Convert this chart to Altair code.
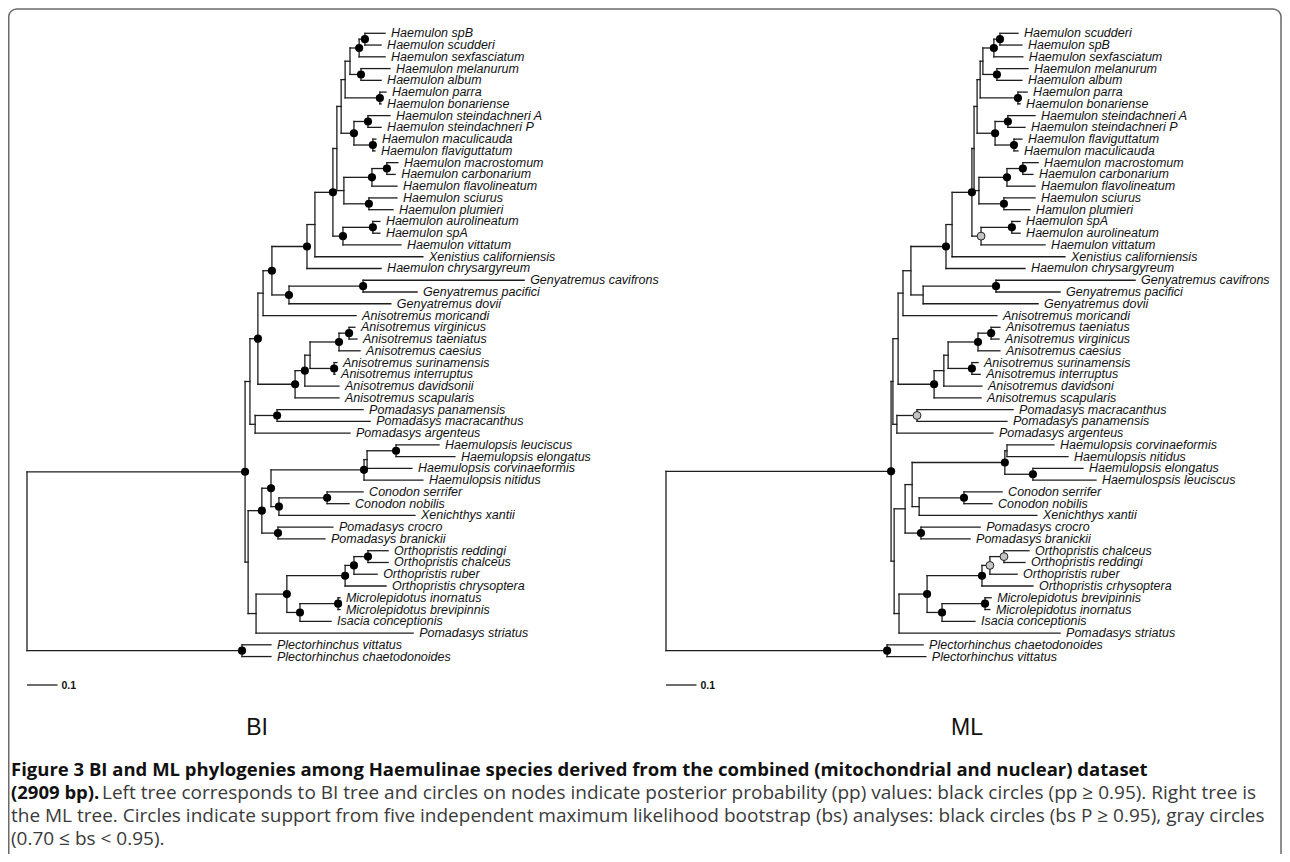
import altair as alt
import pandas as pd

# ---------------- BI tree (left) ----------------
BI_NODES = ["root", "Q", "R", "S", "T", "U", "V", "W", "X", "Y", "j", "e", "d", "b", "a", "c", "f",
            "i", "g", "h", "M", "m2", "m1", "sp", "au2", "au1", "G2", "G1", "A6", "A5", "A4", "A2",
            "A1", "A3", "P2", "P1", "K3", "K2", "K1", "H3", "H2", "H1", "C2", "C1", "Pc", "O5", "O4",
            "O3", "O2", "O1", "M2", "M1", "Pl"]
BI_NODE_PARENT = ["", "root", "Q", "R", "S", "T", "U", "V", "W", "X", "Y", "j", "e", "d", "b", "d", "e",
                  "j", "i", "i", "Y", "M", "m2", "M", "X", "au2", "U", "G2", "S", "A6", "A5", "A4",
                  "A2", "A4", "R", "P2", "Q", "K3", "K2", "K1", "H3", "H2", "K1", "C2", "K2", "K3", "O5",
                  "O4", "O3", "O2", "O4", "M2", "root"]
BI_NODE_DEPTH = [0.0, 0.715, 0.731, 0.757, 0.774, 0.803, 0.918, 0.944, 1.003, 1.016, 1.030, 1.043,
                 1.059, 1.089, 1.108, 1.095, 1.157, 1.072, 1.118, 1.134, 1.039, 1.131, 1.180, 1.121,
                 1.036, 1.134, 0.859, 1.102, 0.879, 0.911, 0.928, 1.023, 1.056, 1.007, 0.748, 0.820,
                 0.725, 0.770, 0.800, 1.105, 1.115, 1.210, 0.826, 0.984, 0.823, 0.751, 0.852, 1.043,
                 1.072, 1.118, 0.895, 1.020, 0.705]
# posterior probability >= 0.95 -> "B" (black circle)
BI_NODE_SUPPORT = ["", "B", "", "B", "", "B", "B", "", "B", "", "", "", "", "B", "B", "B", "B",
                   "B", "B", "B", "", "B", "B", "B", "B", "B", "B", "B", "B", "B", "", "B",
                   "B", "B", "", "B", "", "B", "B", "B", "", "B", "B", "B", "B", "", "B",
                   "B", "B", "B", "B", "B", "B"]
BI_TIPS = ["Haemulon spB", "Haemulon scudderi", "Haemulon sexfasciatum", "Haemulon melanurum",
           "Haemulon album", "Haemulon parra", "Haemulon bonariense", "Haemulon steindachneri A",
           "Haemulon steindachneri P", "Haemulon maculicauda", "Haemulon flaviguttatum",
           "Haemulon macrostomum", "Haemulon carbonarium", "Haemulon flavolineatum", "Haemulon sciurus",
           "Haemulon plumieri", "Haemulon aurolineatum", "Haemulon spA", "Haemulon vittatum",
           "Xenistius californiensis", "Haemulon chrysargyreum", "Genyatremus cavifrons",
           "Genyatremus pacifici", "Genyatremus dovii", "Anisotremus moricandi", "Anisotremus virginicus",
           "Anisotremus taeniatus", "Anisotremus caesius", "Anisotremus surinamensis",
           "Anisotremus interruptus", "Anisotremus davidsonii", "Anisotremus scapularis",
           "Pomadasys panamensis", "Pomadasys macracanthus", "Pomadasys argenteus",
           "Haemulopsis leuciscus", "Haemulopsis elongatus", "Haemulopsis corvinaeformis",
           "Haemulopsis nitidus", "Conodon serrifer", "Conodon nobilis", "Xenichthys xantii",
           "Pomadasys crocro", "Pomadasys branickii", "Orthopristis reddingi", "Orthopristis chalceus",
           "Orthopristis ruber", "Orthopristis chrysoptera", "Microlepidotus inornatus",
           "Microlepidotus brevipinnis", "Isacia conceptionis", "Pomadasys striatus",
           "Plectorhinchus vittatus", "Plectorhinchus chaetodonoides"]
BI_TIP_PARENT = ["a", "a", "b", "c", "c", "f", "f", "g", "g", "h", "h", "m1", "m1", "m2", "sp", "sp",
                 "au1", "au1", "au2", "W", "V", "G1", "G1", "G2", "T", "A1", "A1", "A2", "A3", "A3",
                 "A5", "A6", "P1", "P1", "P2", "H1", "H1", "H2", "H3", "C1", "C1", "C2", "Pc", "Pc",
                 "O1", "O1", "O2", "O3", "M1", "M1", "M2", "O5", "Pl", "Pl"]
BI_TIP_DEPTH = [1.174, 1.161, 1.174, 1.190, 1.161, 1.177, 1.161, 1.190, 1.161, 1.144, 1.141,
                1.216, 1.207, 1.213, 1.213, 1.200, 1.157, 1.157, 1.226, 1.298, 1.161, 1.630,
                1.279, 1.193, 1.079, 1.075, 1.082, 1.092, 1.016, 1.010, 1.023, 1.023, 1.102,
                1.125, 1.059, 1.351, 1.403, 1.262, 1.298, 1.102, 1.056, 1.272, 1.003, 0.977,
                1.184, 1.184, 1.148, 1.177, 1.026, 1.026, 0.997, 1.266, 0.800, 0.800]

# ---------------- ML tree (right) ----------------
ML_NODES = ["root", "Q", "R", "S", "T", "U", "V", "W", "X", "Y", "j", "e", "d", "b", "a", "c", "f",
            "i", "g", "h", "M", "m2", "m1", "sp", "au2", "au1", "G2", "G1", "A6", "A5", "A4", "A2",
            "A1", "A3", "P2", "P1", "K3", "K2", "K1", "Hc", "CN", "EL", "C2", "C1", "Pc", "O5", "O4",
            "O3", "O2", "O1", "M2", "M1", "Pl"]
ML_NODE_PARENT = ["", "root", "Q", "R", "S", "T", "U", "V", "W", "X", "Y", "j", "e", "d", "b", "d", "e",
                  "j", "i", "i", "Y", "M", "m2", "M", "X", "au2", "U", "G2", "S", "A6", "A5", "A4",
                  "A2", "A4", "R", "P2", "Q", "K3", "K2", "K1", "Hc", "Hc", "K1", "C2", "K2", "K3", "O5",
                  "O4", "O3", "O2", "O4", "M2", "root"]
ML_NODE_DEPTH = [0.0, 0.738, 0.744, 0.761, 0.777, 0.803, 0.918, 0.938, 1.003, 1.010, 1.020, 1.030,
                 1.039, 1.075, 1.095, 1.085, 1.154, 1.079, 1.121, 1.141, 1.026, 1.118, 1.170, 1.108,
                 1.033, 1.134, 0.843, 1.082, 0.879, 0.911, 0.925, 1.023, 1.066, 1.003, 0.757, 0.823,
                 0.748, 0.784, 0.807, 1.111, 1.118, 1.203, 0.830, 0.977, 0.836, 0.764, 0.856, 1.036,
                 1.062, 1.108, 0.905, 1.046, 0.725]
# bootstrap >= 0.95 -> "B" (black), 0.70-0.95 -> "G" (gray)
ML_NODE_SUPPORT = ["", "B", "", "", "", "", "B", "", "B", "", "", "", "", "B", "B", "B", "B",
                   "B", "B", "B", "", "B", "B", "B", "G", "B", "", "B", "B", "", "", "B",
                   "B", "B", "", "G", "", "", "", "B", "", "B", "", "B", "B", "", "B",
                   "B", "G", "G", "B", "B", "B"]
ML_TIPS = ["Haemulon scudderi", "Haemulon spB", "Haemulon sexfasciatum", "Haemulon melanurum",
           "Haemulon album", "Haemulon parra", "Haemulon bonariense", "Haemulon steindachneri A",
           "Haemulon steindachneri P", "Haemulon flaviguttatum", "Haemulon maculicauda",
           "Haemulon macrostomum", "Haemulon carbonarium", "Haemulon flavolineatum", "Haemulon sciurus",
           "Hamulon plumieri", "Haemulon spA", "Haemulon aurolineatum", "Haemulon vittatum",
           "Xenistius californiensis", "Haemulon chrysargyreum", "Genyatremus cavifrons",
           "Genyatremus pacifici", "Genyatremus dovii", "Anisotremus moricandi", "Anisotremus taeniatus",
           "Anisotremus virginicus", "Anisotremus caesius", "Anisotremus surinamensis",
           "Anisotremus interruptus", "Anisotremus davidsoni", "Anisotremus scapularis",
           "Pomadasys macracanthus", "Pomadasys panamensis", "Pomadasys argenteus",
           "Haemulopsis corvinaeformis", "Haemulopsis nitidus", "Haemulopsis elongatus",
           "Haemulospsis leuciscus", "Conodon serrifer", "Conodon nobilis", "Xenichthys xantii",
           "Pomadasys crocro", "Pomadasys branickii", "Orthopristis chalceus", "Orthopristis reddingi",
           "Orthopristis ruber", "Orthopristis crhysoptera", "Microlepidotus brevipinnis",
           "Microlepidotus inornatus", "Isacia conceptionis", "Pomadasys striatus",
           "Plectorhinchus chaetodonoides", "Plectorhinchus vittatus"]
ML_TIP_PARENT = ["a", "a", "b", "c", "c", "f", "f", "g", "g", "h", "h", "m1", "m1", "m2", "sp", "sp",
                 "au1", "au1", "au2", "W", "V", "G1", "G1", "G2", "T", "A1", "A1", "A2", "A3", "A3",
                 "A5", "A6", "P1", "P1", "P2", "CN", "CN", "EL", "EL", "C1", "C1", "C2", "Pc", "Pc",
                 "O1", "O1", "O2", "O3", "M1", "M1", "M2", "O5", "Pl", "Pl"]
ML_TIP_DEPTH = [1.154, 1.167, 1.170, 1.187, 1.167, 1.184, 1.161, 1.210, 1.177, 1.167, 1.154,
                1.220, 1.203, 1.210, 1.210, 1.193, 1.161, 1.161, 1.243, 1.308, 1.177, 1.538,
                1.292, 1.220, 1.085, 1.095, 1.092, 1.095, 1.023, 1.030, 1.036, 1.033, 1.138,
                1.118, 1.072, 1.272, 1.318, 1.367, 1.410, 1.102, 1.069, 1.216, 1.030, 0.997,
                1.190, 1.177, 1.151, 1.203, 1.066, 1.062, 1.013, 1.292, 0.843, 0.852]

SCALE_BAR = 0.1
PANEL_TITLES = ["BI", "ML"]
CAPTION_BOLD_1 = ("Figure 3 BI and ML phylogenies among Haemulinae species derived from the combined "
                  "(mitochondrial and nuclear) dataset")
CAPTION_BOLD_2 = "(2909 bp)."
CAPTION_REST_2 = ("Left tree corresponds to BI tree and circles on nodes indicate posterior probability "
                  "(pp) values: black circles (pp \u2265 0.95). Right tree is")
CAPTION_3 = ("the ML tree. Circles indicate support from five independent maximum likelihood bootstrap "
             "(bs) analyses: black circles (bs P \u2265 0.95), gray circles")
CAPTION_4 = "(0.70 \u2264 bs < 0.95)."

# ---------------- layout helpers ----------------
W, H = 1274, 846
PX_PER_UNIT = 305.0
BI_OFFSET = 19 / PX_PER_UNIT
ML_OFFSET = 658 / PX_PER_UNIT


def tree_frames(nodes, parents, depths, support, tips, tip_parents, tip_depths, offset):
    depth = dict(zip(nodes, depths))
    par = dict(zip(nodes, parents))
    sup = dict(zip(nodes, support))
    kids = {n: [] for n in nodes}
    for n, p in zip(nodes, parents):
        if p:
            kids[p].append(n)
    ypos = {}
    for i, (t, p, d) in enumerate(zip(tips, tip_parents, tip_depths)):
        k = "tip%d" % i
        depth[k] = d
        par[k] = p
        kids[p].append(k)
        ypos[k] = float(i)
    span = {}

    def gy(n):
        if n in ypos:
            return ypos[n]
        ys = [gy(c) for c in kids[n]]
        span[n] = (min(ys), max(ys))
        ypos[n] = (min(ys) + max(ys)) / 2.0
        return ypos[n]

    gy(nodes[0])
    segs = []
    for n, (lo, hi) in span.items():
        segs.append(dict(x=offset + depth[n], x2=offset + depth[n], y=lo, y2=hi))
    for n, p in par.items():
        if p:
            segs.append(dict(x=offset + depth[p], x2=offset + depth[n], y=ypos[n], y2=ypos[n]))
    dots = [dict(x=offset + depth[n], y=ypos[n], s=sup[n]) for n in nodes if sup[n]]
    labels = [dict(x=offset + d, y=float(i), name=t) for i, (t, d) in enumerate(zip(tips, tip_depths))]
    return segs, dots, labels


s1, d1, l1 = tree_frames(BI_NODES, BI_NODE_PARENT, BI_NODE_DEPTH, BI_NODE_SUPPORT,
                         BI_TIPS, BI_TIP_PARENT, BI_TIP_DEPTH, BI_OFFSET)
s2, d2, l2 = tree_frames(ML_NODES, ML_NODE_PARENT, ML_NODE_DEPTH, ML_NODE_SUPPORT,
                         ML_TIPS, ML_TIP_PARENT, ML_TIP_DEPTH, ML_OFFSET)
seg_df = pd.DataFrame(s1 + s2)
dot_df = pd.DataFrame(d1 + d2)
lab_df = pd.DataFrame(l1 + l2)
bar_df = pd.DataFrame({"x": [BI_OFFSET, ML_OFFSET],
                       "x2": [BI_OFFSET + SCALE_BAR, ML_OFFSET + SCALE_BAR],
                       "t": [str(SCALE_BAR)] * 2})

xs = alt.Scale(domain=[0, W / PX_PER_UNIT], nice=False, zero=False)
ys = alt.Scale(domain=[-2.151, 69.79], reverse=True, nice=False, zero=False)
X = alt.X("x:Q", scale=xs, axis=None)
Y = alt.Y("y:Q", scale=ys, axis=None)
LINE = "#1e1e1e"

branches = alt.Chart(seg_df).mark_rule(color=LINE, strokeWidth=1.3, strokeCap="square").encode(
    x=X, x2="x2:Q", y=Y, y2="y2:Q")
black_dots = alt.Chart(dot_df).transform_filter(alt.datum.s == "B").mark_circle(
    size=66, color="#000000", opacity=1).encode(x=X, y=Y)
gray_dots = alt.Chart(dot_df).transform_filter(alt.datum.s == "G").mark_circle(
    size=62, fill="#c4c4c4", stroke="#222222", strokeWidth=1, opacity=1).encode(x=X, y=Y)
labels = alt.Chart(lab_df).mark_text(
    align="left", baseline="middle", dx=6, font="Liberation Sans", fontStyle="italic",
    fontSize=12.5, color="#111111").encode(x=X, y=Y, text="name:N")

bars = alt.Chart(bar_df).mark_rule(color=LINE, strokeWidth=1.3).encode(
    x=X, x2="x2:Q", y=alt.value(677))
bar_text = alt.Chart(bar_df).mark_text(
    align="left", baseline="middle", dx=4, dy=1, font="Liberation Sans", fontWeight="bold",
    fontSize=10.5, color="#111111").encode(x=alt.X("x2:Q", scale=xs, axis=None), y=alt.value(677), text="t:N")


def text_layer(txt, x, y, size=19, bold=False, color="#3a3a3a", align="left"):
    return alt.Chart(pd.DataFrame({"t": [txt]})).mark_text(
        align=align, baseline="middle", font="Open Sans", fontSize=size,
        fontWeight="bold" if bold else "normal", color=color).encode(
        x=alt.value(x), y=alt.value(y), text="t:N")


titles = [
    alt.Chart(pd.DataFrame({"t": [PANEL_TITLES[0]]})).mark_text(
        align="center", baseline="middle", font="Liberation Sans", fontSize=23, color="#111111").encode(
        x=alt.value(249), y=alt.value(720), text="t:N"),
    alt.Chart(pd.DataFrame({"t": [PANEL_TITLES[1]]})).mark_text(
        align="center", baseline="middle", font="Liberation Sans", fontSize=23, color="#111111").encode(
        x=alt.value(959), y=alt.value(720), text="t:N"),
]

cap = [
    text_layer(CAPTION_BOLD_1, 3, 762, 18.5, True, "#111111"),
    text_layer(CAPTION_BOLD_2, 3, 785, 18.5, True, "#111111"),
    text_layer(CAPTION_REST_2, 94, 785),
    text_layer(CAPTION_3, 3, 808),
    text_layer(CAPTION_4, 3, 831),
]

frame = alt.Chart(pd.DataFrame({"a": [0]})).mark_rect(
    fillOpacity=0, stroke="#6a6a6a", strokeWidth=1.5, cornerRadius=8, clip=True).encode(
    x=alt.value(0.75), x2=alt.value(1273), y=alt.value(1), y2=alt.value(880))

chart = alt.layer(frame, branches, black_dots, gray_dots, labels, bars, bar_text, *titles, *cap).properties(
    width=W, height=H, padding=0, autosize=alt.AutoSizeParams(type="none"),
    background="white").configure_view(stroke=None)

chart.save("out.html", embed_options={"renderer": "svg", "actions": False})
